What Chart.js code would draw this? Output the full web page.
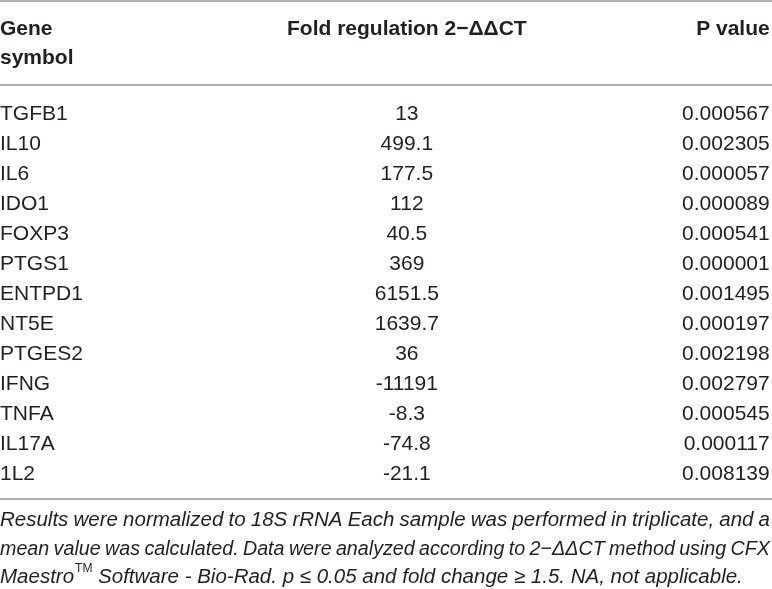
<!DOCTYPE html>
<html>
<head>
<meta charset="utf-8">
<title>Fold regulation table</title>
<script src="https://cdn.jsdelivr.net/npm/chart.js@4.4.1/dist/chart.umd.min.js"></script>
<style>
  html, body { margin: 0; padding: 0; background: #fff; }
  #wrap { width: 772px; height: 589px; position: relative; }
</style>
</head>
<body>
<div id="wrap"><canvas id="tableChart"></canvas></div>
<script>
'use strict';

// table data
var genes = ['TGFB1', 'IL10', 'IL6', 'IDO1', 'FOXP3', 'PTGS1', 'ENTPD1', 'NT5E', 'PTGES2', 'IFNG', 'TNFA', 'IL17A', '1L2'];
var foldValues = ['13', '499.1', '177.5', '112', '40.5', '369', '6151.5', '1639.7', '36', '-11191', '-8.3', '-74.8', '-21.1'];
var pValues = ['0.000567', '0.002305', '0.000057', '0.000089', '0.000541', '0.000001', '0.001495', '0.000197', '0.002198', '0.002797', '0.000545', '0.000117', '0.008139'];
var headers = [['Gene', 'symbol'], ['Fold regulation 2\u2212\u0394\u0394CT'], ['P value']];
var footnoteLines = [
	'Results were normalized to 18S rRNA Each sample was performed in triplicate, and a',
	'mean value was calculated. Data were analyzed according to 2\u2212\u0394\u0394CT method using CFX',
	['Maestro', 'TM', ' Software - Bio-Rad. p \u2264 0.05 and fold change \u2265 1.5. NA, not applicable.']
];

var FONT = '"Liberation Sans", Arial, Helvetica, sans-serif';
var INK = '#231f20';
var RULE = '#9b9b9b';

// justify a line; squeeze it a little if the words don't fit with a sane gap
function drawJustified(ctx, text, left, right, y) {
	var words = text.split(' ');
	var total = 0;
	for (var i = 0; i < words.length; i++) {
		total += ctx.measureText(words[i]).width;
	}
	var minGap = 4.5;
	var avail = right - left;
	var sx = 1;
	if (total + minGap * (words.length - 1) > avail) {
		sx = avail / (total + minGap * (words.length - 1));
	}
	var gap = (avail / sx - total) / (words.length - 1);
	ctx.save();
	ctx.translate(left, 0);
	ctx.scale(sx, 1);
	ctx.textAlign = 'left';
	var x = 0;
	for (var i = 0; i < words.length; i++) {
		ctx.fillText(words[i], x, y);
		x += ctx.measureText(words[i]).width + gap;
	}
	ctx.restore();
}

function hRule(ctx, chart, y) {
	ctx.beginPath();
	ctx.moveTo(0, y);
	ctx.lineTo(chart.width, y);
	ctx.stroke();
}

var tablePlugin = {
	id: 'tableCells',
	afterDatasetsDraw: function(chart, args, opts) {
		var ctx = chart.ctx;
		var area = chart.chartArea;
		var xs = chart.scales.x;
		var ys = chart.scales.y;
		var cols = opts.columns;

		ctx.save();
		ctx.fillStyle = INK;
		ctx.textBaseline = 'middle';

		// rules
		ctx.strokeStyle = RULE;
		ctx.lineWidth = 1.4;
		hRule(ctx, chart, area.top - 97);
		hRule(ctx, chart, area.top - 13);
		hRule(ctx, chart, area.bottom + 11);

		// header
		ctx.font = 'bold 21px ' + FONT;
		for (var c = 0; c < headers.length; c++) {
			ctx.textAlign = cols[c].align;
			for (var l = 0; l < headers[c].length; l++) {
				ctx.fillText(headers[c][l], xs.getPixelForValue(cols[c].at), area.top - 69 + l * 29);
			}
		}

		// body cells, one row per category on the y scale
		ctx.font = '21px ' + FONT;
		var columnsData = [genes, foldValues, pValues];
		for (var i = 0; i < genes.length; i++) {
			var py = ys.getPixelForValue(i);
			for (var c = 0; c < columnsData.length; c++) {
				ctx.textAlign = cols[c].align;
				ctx.fillText(columnsData[c][i], xs.getPixelForValue(cols[c].at), py + 1);
			}
		}

		// footnote
		var fy = area.bottom + 32;
		ctx.font = 'italic 20.5px ' + FONT;
		drawJustified(ctx, footnoteLines[0], 0, chart.width - 2, fy);
		drawJustified(ctx, footnoteLines[1], 0, chart.width - 2, fy + 29);
		var last = footnoteLines[2];
		var x = 0;
		var ly = fy + 57;
		ctx.textAlign = 'left';
		ctx.fillText(last[0], x, ly);
		x += ctx.measureText(last[0]).width + 1;
		ctx.font = '12px ' + FONT;
		ctx.fillText(last[1], x, ly - 8);
		x += ctx.measureText(last[1]).width;
		ctx.font = 'italic 20.5px ' + FONT;
		ctx.fillText(last[2], x, ly);

		ctx.restore();
	}
};

new Chart(document.getElementById('tableChart'), {
	type: 'scatter',
	data: {
		labels: genes,
		datasets: [{
			label: 'Fold regulation',
			data: genes.map(function(g) { return { x: 0.5, y: g }; }),
			pointRadius: 0,
			pointHoverRadius: 0
		}]
	},
	options: {
		responsive: true,
		maintainAspectRatio: false,
		animation: false,
		events: [],
		layout: { padding: { top: 98, bottom: 101, left: 0, right: 0 } },
		scales: {
			x: { type: 'linear', min: 0, max: 1, display: false },
			y: { type: 'category', labels: genes, offset: true, display: false }
		},
		plugins: {
			legend: { display: false },
			tooltip: { enabled: false },
			tableCells: {
				columns: [
					{ at: 0, align: 'left' },
					{ at: 0.527, align: 'center' },
					{ at: 0.997, align: 'right' }
				]
			}
		}
	},
	plugins: [tablePlugin]
});
</script>
</body>
</html>
